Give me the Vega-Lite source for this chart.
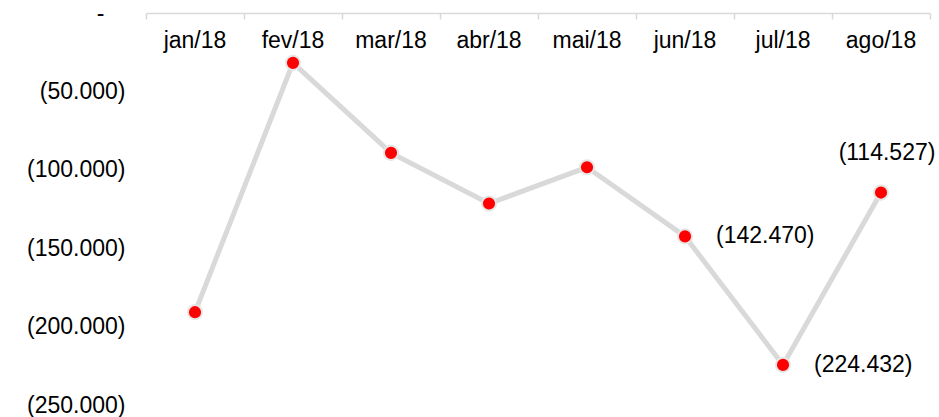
{
  "$schema": "https://vega.github.io/schema/vega-lite/v6.json",
  "width": 784,
  "height": 392,
  "autosize": {"type": "none"},
  "padding": {"left": 146, "top": 13, "right": 9, "bottom": 12},
  "background": "white",
  "config": {
    "view": {"stroke": null},
    "font": "Liberation Sans"
  },
  "data": {
    "values": [
      {"mes": "jan/18", "valor": -190800, "rotulo": "(190.800)"},
      {"mes": "fev/18", "valor": -31800, "rotulo": "(31.800)"},
      {"mes": "mar/18", "valor": -89200, "rotulo": "(89.200)"},
      {"mes": "abr/18", "valor": -121500, "rotulo": "(121.500)"},
      {"mes": "mai/18", "valor": -98400, "rotulo": "(98.400)"},
      {"mes": "jun/18", "valor": -142470, "rotulo": "(142.470)"},
      {"mes": "jul/18", "valor": -224432, "rotulo": "(224.432)"},
      {"mes": "ago/18", "valor": -114527, "rotulo": "(114.527)"}
    ]
  },
  "encoding": {
    "x": {
      "field": "mes",
      "type": "ordinal",
      "sort": null,
      "scale": {"type": "band", "paddingInner": 0, "paddingOuter": 0},
      "axis": {
        "title": null,
        "orient": "bottom",
        "offset": -392,
        "labelAngle": 0,
        "labelFontSize": 23,
        "labelColor": "#000000",
        "labelPadding": 10,
        "labelBaseline": "top",
        "domainColor": "#d9d9d9",
        "domainWidth": 1.5,
        "tickColor": "#d9d9d9",
        "tickWidth": 1.5,
        "tickSize": 6,
        "bandPosition": 1,
        "tickExtra": true,
        "grid": false,
        "zindex": 0
      }
    }
  },
  "resolve": {"scale": {"y": "independent"}, "axis": {"y": "independent"}},
  "layer": [
    {
      "mark": {"type": "line", "color": "#d9d9d9", "strokeWidth": 5},
      "encoding": {
        "y": {
          "field": "valor",
          "type": "quantitative",
          "scale": {"domain": [-250000, 0], "nice": false, "zero": false},
          "axis": {
            "title": null,
            "orient": "left",
            "values": [-50000, -100000, -150000, -200000, -250000],
            "labelExpr": "'(' + replace(format(-datum.value, ','), ',', '.') + ')'",
            "labelFontSize": 23,
            "labelColor": "#000000",
            "labelPadding": 21,
            "labelBaseline": "middle",
            "labelBound": false,
            "labelFlush": false,
            "labelOverlap": false,
            "domain": false,
            "ticks": false,
            "grid": false
          }
        }
      }
    },
    {
      "mark": {"type": "point", "shape": "circle", "filled": true, "fill": "#ff0000", "stroke": "#e6e6e6", "strokeWidth": 2, "opacity": 1},
      "encoding": {
        "y": {
          "field": "valor",
          "type": "quantitative",
          "scale": {"domain": [-250000, 0], "nice": false, "zero": false},
          "axis": {
            "title": null,
            "orient": "left",
            "values": [0],
            "labelExpr": "'-'",
            "labelFontSize": 23,
            "labelColor": "#000000",
            "labelPadding": 42,
            "labelBaseline": "middle",
            "labelBound": false,
            "labelFlush": false,
            "labelOverlap": false,
            "domain": false,
            "ticks": false,
            "grid": false
          }
        },
        "size": {"value": 200}
      }
    },
    {
      "transform": [{"filter": "datum.mes == 'jun/18' || datum.mes == 'jul/18'"}],
      "mark": {"type": "text", "align": "left", "baseline": "middle", "dx": 31, "fontSize": 23, "color": "#000000"},
      "encoding": {
        "y": {"field": "valor", "type": "quantitative", "scale": {"domain": [-250000, 0], "nice": false, "zero": false}, "axis": null},
        "text": {"field": "rotulo"}
      }
    },
    {
      "transform": [{"filter": "datum.mes == 'ago/18'"}],
      "mark": {"type": "text", "align": "center", "baseline": "middle", "dx": 6, "dy": -40, "fontSize": 23, "color": "#000000"},
      "encoding": {
        "y": {"field": "valor", "type": "quantitative", "scale": {"domain": [-250000, 0], "nice": false, "zero": false}, "axis": null},
        "text": {"field": "rotulo"}
      }
    }
  ]
}
